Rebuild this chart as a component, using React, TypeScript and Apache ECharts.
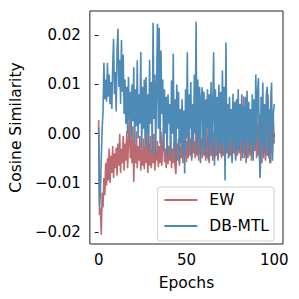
import React, { useEffect, useRef } from "react";
import * as echarts from "echarts";

const epochStep = 0.5;
const xTicks = [0, 50, 100];
const yTicks = [-0.02, -0.01, 0, 0.01, 0.02];
const seriesNames = ["EW", "DB-MTL"];

const ewValues = [
  0.0027, -0.0165, -0.0150, -0.0205, -0.0120, -0.0150, -0.0090, -0.0125, -0.0060, -0.0105, -0.0050,
  -0.0095, -0.0030, -0.0100, -0.0045, -0.0080, -0.0025, -0.0090, -0.0040, -0.0070, -0.0028,
  -0.0085, -0.0020, -0.0065, 0.0000, -0.0080, -0.0030, -0.0060, -0.0005, -0.0075, -0.0020,
  -0.0055, 0.0005, -0.0070, -0.0015, 0.0040, -0.0050, -0.0010, -0.0060, 0.0015, -0.0098,
  -0.0020, -0.0060, 0.0005, -0.0070, -0.0025, -0.0055, -0.0005, -0.0075, -0.0030, -0.0065,
  -0.0010, -0.0072, -0.0025, -0.0060, 0.0010, -0.0080, -0.0020, -0.0065, -0.0005, -0.0070,
  -0.0030, -0.0060, 0.0000, -0.0075, -0.0035, -0.0055, -0.0015, -0.0068, -0.0025, -0.0060,
  0.0005, -0.0065, -0.0020, 0.0010, -0.0058, -0.0030, -0.0070, -0.0010, -0.0062, -0.0025,
  -0.0055, -0.0005, -0.0070, -0.0030, -0.0060, -0.0015, -0.0065, -0.0082, -0.0020, -0.0055,
  -0.0010, -0.0065, -0.0025, -0.0050, 0.0000, -0.0060, -0.0020, -0.0045, 0.0005, -0.0058,
  -0.0015, -0.0050, 0.0010, -0.0045, -0.0010, -0.0055, 0.0005, -0.0040, -0.0015, -0.0050,
  0.0010, -0.0045, -0.0005, -0.0055, 0.0015, -0.0040, -0.0010, -0.0050, 0.0005, -0.0045,
  -0.0010, -0.0055, 0.0010, -0.0050, -0.0005, -0.0060, 0.0015, -0.0045, -0.0015, -0.0055,
  0.0005, -0.0050, -0.0010, -0.0045, 0.0020, -0.0055, -0.0005, -0.0040, 0.0010, -0.0050,
  -0.0015, -0.0045, 0.0010, -0.0055, -0.0010, -0.0040, 0.0047, -0.0050, -0.0005, -0.0045,
  0.0015, -0.0055, -0.0010, -0.0040, 0.0020, -0.0050, 0.0000, -0.0045, 0.0025, -0.0035,
  -0.0010, -0.0055, 0.0030, -0.0040, 0.0076, -0.0050, 0.0010, -0.0045, 0.0020, -0.0050,
  -0.0005, -0.0040, 0.0015, -0.0055, 0.0005, -0.0045, 0.0025, -0.0035, -0.0010, -0.0050,
  0.0020, -0.0045, 0.0040, -0.0088, 0.0010, -0.0060, 0.0025, -0.0040, 0.0015, -0.0055,
  0.0030, -0.0045, 0.0080, -0.0050, 0.0010, -0.0060, 0.0020, -0.0040, 0.0035, -0.0020,
];

const dbmtlValues = [
  0.0012, -0.0148, -0.0120, -0.0050, 0.0010, 0.0045, 0.0144, 0.0070, 0.0110, 0.0065, 0.0144,
  0.0075, 0.0120, 0.0060, 0.0105, 0.0050, 0.0135, 0.0192, 0.0080, 0.0125, 0.0045,
  0.0170, 0.0213, 0.0095, 0.0150, 0.0060, 0.0190, 0.0085, 0.0160, 0.0040, 0.0110,
  0.0020, 0.0095, 0.0000, 0.0115, 0.0030, 0.0085, -0.0010, 0.0100, 0.0025, 0.0135,
  -0.0020, 0.0090, 0.0015, 0.0149, -0.0010, 0.0080, 0.0020, 0.0166, -0.0030, 0.0095,
  0.0010, 0.0110, -0.0025, 0.0115, 0.0000, 0.0080, -0.0035, 0.0150, 0.0020, 0.0105,
  -0.0040, 0.0225, 0.0030, 0.0120, -0.0045, 0.0100, 0.0223, 0.0010, 0.0215, -0.0020,
  0.0169, 0.0040, 0.0110, -0.0035, 0.0090, 0.0000, 0.0075, -0.0050, 0.0080, 0.0020,
  0.0060, -0.0045, 0.0108, 0.0000, 0.0162, -0.0030, 0.0070, -0.0055, 0.0100, 0.0010,
  0.0085, -0.0060, 0.0050, -0.0020, 0.0070, -0.0040, 0.0047, -0.0081, 0.0090, -0.0010,
  0.0165, -0.0030, 0.0080, 0.0010, 0.0105, -0.0050, 0.0060, -0.0020, 0.0120, 0.0000,
  0.0227, -0.0040, 0.0110, -0.0010, 0.0095, -0.0060, 0.0075, 0.0094, -0.0030, 0.0085,
  -0.0045, 0.0070, 0.0010, 0.0090, -0.0055, 0.0080, -0.0020, 0.0105, -0.0040, 0.0060,
  0.0165, -0.0065, 0.0090, -0.0010, 0.0075, -0.0050, 0.0100, -0.0025, 0.0085, -0.0045,
  0.0128, -0.0020, 0.0095, -0.0095, 0.0185, -0.0030, 0.0060, -0.0050, 0.0075, -0.0010,
  0.0050, -0.0060, 0.0081, -0.0020, 0.0065, -0.0055, 0.0070, -0.0030, 0.0090, -0.0040,
  0.0060, -0.0015, 0.0080, -0.0050, 0.0055, -0.0025, 0.0075, -0.0060, 0.0087, -0.0010,
  0.0065, -0.0045, 0.0050, -0.0020, 0.0080, -0.0055, 0.0070, -0.0030, 0.0120, -0.0015,
  0.0085, 0.0113, -0.0040, -0.0090, 0.0075, -0.0020, 0.0104, -0.0050, 0.0060, -0.0030,
  0.0080, 0.0095, -0.0045, 0.0050, -0.0060, 0.0070, 0.0104, -0.0055, 0.0040, 0.0060,
];

const FONT = "DejaVu Sans";
const colors = ["#bb6b6f", "#4d8ab6"];

const toPairs = (vals: number[]) => vals.map((v, i) => [i * epochStep, v]);

const fmtY = (v: number) => {
  const s = Math.abs(v).toFixed(2);
  return v < -1e-9 ? "\u2212" + s : s;
};

export default function App() {
  const ref = useRef<HTMLDivElement>(null);
  useEffect(() => {
    if (!ref.current) return;
    const chart = echarts.init(ref.current, undefined, { renderer: "svg" });
    chart.setOption({
      animation: false,
      backgroundColor: "#ffffff",
      textStyle: { fontFamily: FONT },
      grid: {
        left: 86,
        right: 16,
        top: 11,
        bottom: 55,
        show: true,
        borderColor: "#222222",
        borderWidth: 1,
        backgroundColor: "transparent",
      },
      xAxis: {
        type: "value",
        min: -5,
        max: 105,
        name: "Epochs",
        nameLocation: "middle",
        nameGap: 31,
        nameTextStyle: { fontFamily: FONT, fontSize: 15.5, color: "#000" },
        axisLine: { show: false },
        splitLine: { show: false },
        axisTick: {
          show: true,
          length: 4,
          customValues: xTicks,
          lineStyle: { color: "#222", width: 1 },
        },
        axisLabel: {
          customValues: xTicks,
          margin: 8,
          fontFamily: FONT,
          fontSize: 15,
          color: "#000",
        },
      },
      yAxis: {
        type: "value",
        min: -0.0224,
        max: 0.0249,
        name: "Cosine Similarity",
        nameLocation: "middle",
        nameGap: 56,
        nameTextStyle: { fontFamily: FONT, fontSize: 15.5, color: "#000" },
        axisLine: { show: false },
        splitLine: { show: false },
        axisTick: {
          show: true,
          length: 4,
          customValues: yTicks,
          lineStyle: { color: "#222", width: 1 },
        },
        axisLabel: {
          customValues: yTicks,
          margin: 9,
          fontFamily: FONT,
          fontSize: 15,
          color: "#000",
          formatter: fmtY,
        },
      },
      legend: {
        right: 25,
        top: 187,
        orient: "vertical",
        data: seriesNames,
        itemWidth: 33,
        itemHeight: 14,
        itemGap: 10,
        padding: [5, 5, 7, 6],
        borderColor: "#d0d0d0",
        borderWidth: 1,
        borderRadius: 3,
        backgroundColor: "rgba(255,255,255,0.8)",
        itemStyle: { opacity: 0 },
        lineStyle: { width: 2 },
        textStyle: {
          fontFamily: FONT,
          fontSize: 15.5,
          color: "#000",
          padding: [0, 0, 0, 7],
        },
      },
      series: [
        {
          name: seriesNames[0],
          type: "line",
          data: toPairs(ewValues),
          symbol: "none",
          color: colors[0],
          lineStyle: { width: 1.6, color: colors[0] },
        },
        {
          name: seriesNames[1],
          type: "line",
          data: toPairs(dbmtlValues),
          symbol: "none",
          color: colors[1],
          lineStyle: { width: 1.6, color: colors[1] },
        },
      ],
    });
    return () => chart.dispose();
  }, []);
  return <div ref={ref} style={{ width: 299, height: 299, margin: -8 }} />;
}
